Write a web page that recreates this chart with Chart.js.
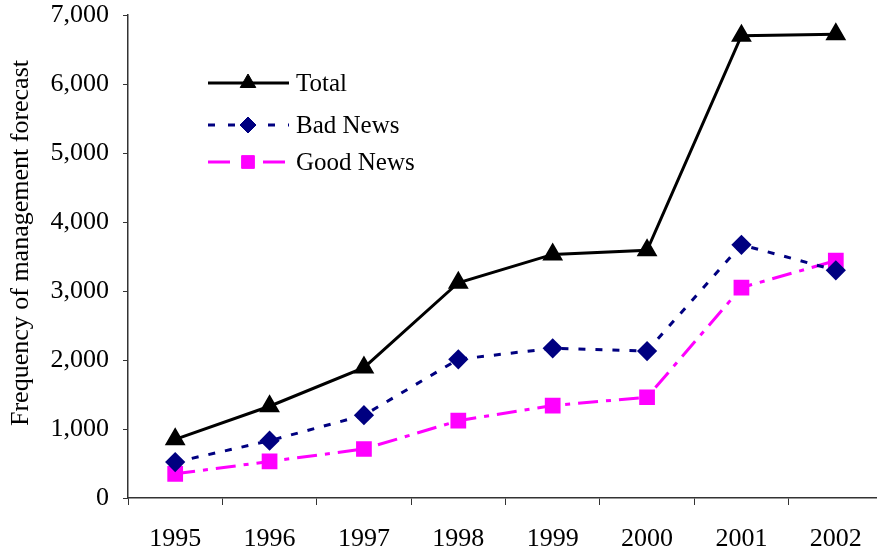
<!DOCTYPE html>
<html>
<head>
<meta charset="utf-8">
<script src="https://cdn.jsdelivr.net/npm/chart.js@4"></script>
<style>
  html, body { margin: 0; padding: 0; background: #fff; overflow: hidden; }
  /* the plot runs a little past the right edge in the original */
  #wrap { width: 895px; height: 554px; position: relative; }
</style>
</head>
<body>
<div id="wrap"><canvas id="chart"></canvas></div>
<script>
const years = ['1995', '1996', '1997', '1998', '1999', '2000', '2001', '2002'];
const total = [850, 1330, 1890, 3120, 3530, 3590, 6700, 6720];
const badNews = [520, 830, 1200, 2010, 2170, 2130, 3670, 3300];
const goodNews = [350, 530, 710, 1120, 1340, 1460, 3050, 3440];
const yTicks = [0, 1000, 2000, 3000, 4000, 5000, 6000, 7000];
const yTitle = 'Frequency of management forecast';

const FONT = '"Liberation Serif", "Times New Roman", serif';

// y title and the in-plot legend are drawn by hand
const overlay = {
    id: 'overlay',
    afterDraw(chart) {
        const ctx = chart.ctx;
        ctx.save();
        ctx.font = '26px ' + FONT;
        ctx.fillStyle = '#000';
        ctx.textAlign = 'center';
        ctx.textBaseline = 'middle';
        ctx.translate(21, 243);
        ctx.rotate(-Math.PI / 2);
        ctx.fillText(yTitle, 0, 0);
        ctx.restore();

        const rows = [83, 125, 162];
        chart.data.datasets.forEach((ds, i) => {
            const y = rows[i];
            ctx.save();
            ctx.strokeStyle = ds.borderColor;
            ctx.lineWidth = ds.borderWidth;
            ctx.setLineDash(ds.legendDash || []);
            ctx.beginPath();
            ctx.moveTo(208, y);
            ctx.lineTo(289, y);
            ctx.stroke();
            ctx.setLineDash([]);
            ctx.fillStyle = ds.pointBackgroundColor;
            ctx.strokeStyle = ds.pointBorderColor;
            ctx.lineWidth = 1;
            Chart.helpers.drawPoint(ctx, {
                pointStyle: ds.pointStyle,
                radius: ds.pointRadius,
                rotation: 0,
                borderWidth: 1
            }, 248, y);
            ctx.fillStyle = '#000';
            ctx.font = '25px ' + FONT;
            ctx.textAlign = 'left';
            ctx.textBaseline = 'middle';
            ctx.fillText(ds.label, 296, y + 1);
            ctx.restore();
        });
    }
};

const datasets = [
    {
        label: 'Total',
        data: total,
        borderColor: '#000000',
        backgroundColor: '#000000',
        borderWidth: 3,
        pointStyle: 'triangle',
        pointRadius: 9,
        pointBackgroundColor: '#000000',
        pointBorderColor: '#000000',
        tension: 0
    },
    {
        label: 'Bad News',
        data: badNews,
        borderColor: '#000080',
        backgroundColor: '#000080',
        borderWidth: 3,
        borderDash: [7, 10],
        legendDash: [7, 13],
        pointStyle: 'rectRot',
        pointRadius: 8,
        pointBackgroundColor: '#000080',
        pointBorderColor: '#000080',
        tension: 0
    },
    {
        label: 'Good News',
        data: goodNews,
        borderColor: '#FF00FF',
        backgroundColor: '#FF00FF',
        borderWidth: 3,
        borderDash: [20, 8, 5, 8],
        legendDash: [22, 33],
        pointStyle: 'rect',
        pointRadius: 9,
        pointBackgroundColor: '#FF00FF',
        pointBorderColor: '#FF00FF',
        tension: 0
    }
];

new Chart(document.getElementById('chart'), {
    type: 'line',
    data: { labels: years, datasets: datasets },
    options: {
        responsive: true,
        maintainAspectRatio: false,
        animation: false,
        layout: { padding: { top: 15, right: 0, bottom: 0, left: 0 } },
        plugins: {
            legend: { display: false },
            tooltip: { enabled: false }
        },
        scales: {
            x: {
                offset: true,
                afterFit: s => { s.height = 56; s.paddingRight = 0; s.paddingLeft = 0; },
                grid: {
                    offset: true,
                    drawOnChartArea: false,
                    drawTicks: true,
                    tickLength: 7,
                    color: '#333'
                },
                border: { color: '#333', width: 1.5 },
                ticks: {
                    color: '#000',
                    padding: 19,
                    font: { family: FONT, size: 26 },
                    maxRotation: 0
                }
            },
            y: {
                min: 0,
                max: 7000,
                afterFit: s => { s.width = 128; s.paddingTop = 0; s.paddingBottom = 0; },
                afterBuildTicks: s => { s.ticks = yTicks.map(v => ({ value: v })); },
                grid: {
                    drawOnChartArea: false,
                    drawTicks: true,
                    tickLength: 5,
                    color: '#333'
                },
                border: { color: '#333', width: 1.5 },
                ticks: {
                    color: '#000',
                    padding: 14,
                    font: { family: FONT, size: 26 },
                    callback: v => v.toLocaleString('en-US')
                }
            }
        }
    },
    plugins: [overlay]
});
</script>
</body>
</html>
